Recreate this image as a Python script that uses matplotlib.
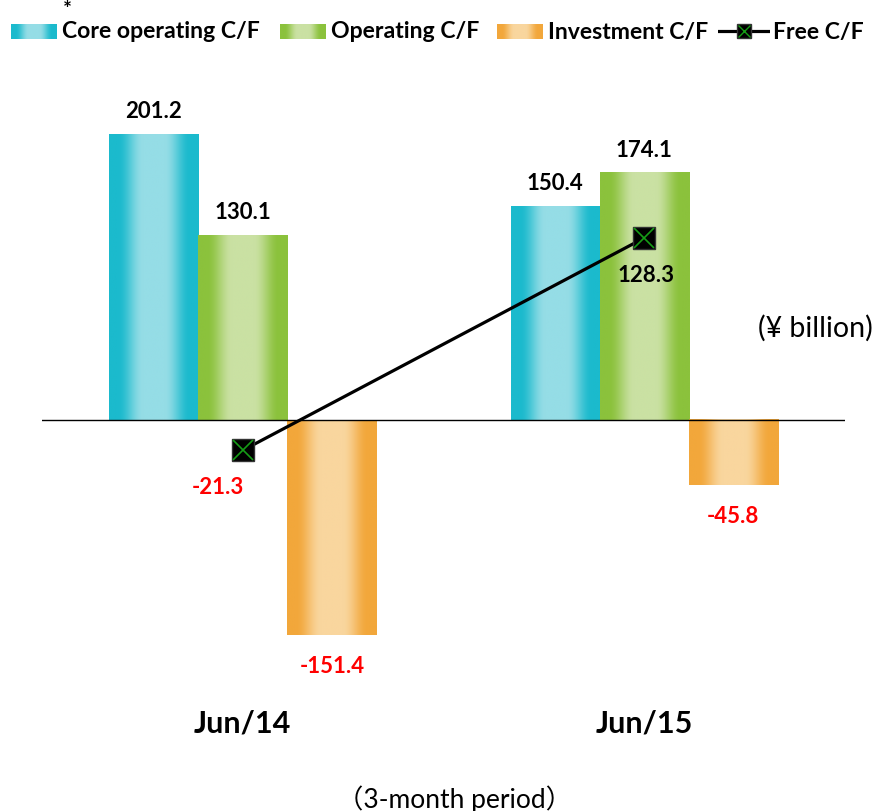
import matplotlib

matplotlib.use("Agg")
import matplotlib.pyplot as plt
import numpy as np
from matplotlib.colors import to_rgb

# 値（¥ billion）
periods = ["Jun/14", "Jun/15"]
core_cf = [201.2, 150.4]
operating_cf = [130.1, 174.1]
investment_cf = [-151.4, -45.8]
free_cf = [-21.3, 128.3]

series_names = ["Core operating C/F", "Operating C/F", "Investment C/F"]
edge_colors = ["#1bbacd", "#8bc23c", "#f2a73b"]
center_colors = ["#95dde6", "#cae1a3", "#f9d69e"]

W, H = 879, 812
plt.rcParams["font.family"] = ["Lato", "DejaVu Sans"]


def gradient_img(edge, center, n=256):
    """横方向のグラデーション（両端が濃く中央が明るい）"""
    t = np.linspace(0, 1, n)
    d = 0.5 - np.abs(t - 0.5)
    s = np.clip((d - 0.1) / 0.28, 0, 1)
    s = s * s * (3 - 2 * s)
    e = np.array(to_rgb(edge))
    c = np.array(to_rgb(center))
    return (e[None, :] + (c - e)[None, :] * s[:, None])[None, :, :]


def fx(px):
    return px / W


def fy(py):
    return 1 - py / H


fig = plt.figure(figsize=(W / 100, H / 100), dpi=100)
ax = fig.add_axes([fx(42), fy(705), (845 - 42) / W, (705 - 52) / H])

x = np.arange(len(periods))
width = 0.222
offsets = [-width, 0, width]
all_values = [core_cf, operating_cf, investment_cf]

for vals, off, ec, cc in zip(all_values, offsets, edge_colors, center_colors):
    bars = ax.bar(x + off, vals, width, color="none", edgecolor="none", zorder=2)
    img = gradient_img(ec, cc)
    for b, v in zip(bars, vals):
        x0 = b.get_x()
        ax.imshow(
            img,
            extent=[x0, x0 + b.get_width(), 0, v],
            aspect="auto",
            interpolation="bilinear",
            zorder=2,
        )
        if v >= 0:
            xy_off, col = (0, 17), "black"
        else:
            xy_off, col = (0, -22), "red"
        ax.annotate(
            f"{v:.1f}",
            (x0 + b.get_width() / 2, v),
            xytext=xy_off,
            textcoords="offset points",
            ha="center",
            va="center",
            fontsize=16,
            fontweight="bold",
            color=col,
        )

ax.axhline(0, color="black", lw=1.0, zorder=3)

# Free C/F
ax.plot(x, free_cf, color="black", lw=2.3, zorder=4)
ax.plot(x, free_cf, ls="none", marker="s", ms=16, mfc="black", mec="#333333", zorder=5)
ax.plot(x, free_cf, ls="none", marker="x", ms=15, mec="#169c16", mew=1.2, zorder=6)
free_offsets = [(-18, -26), (1.5, -26.5)]
for xi, v, off in zip(x, free_cf, free_offsets):
    ax.annotate(
        f"{v:.1f}",
        (xi, v),
        xytext=off,
        textcoords="offset points",
        ha="center",
        va="center",
        fontsize=16,
        fontweight="bold",
        color="red" if v < 0 else "black",
    )

ax.set_xlim(-0.5, 1.5)
ax.set_ylim(-200, 260)
ax.set_xticks(x)
ax.set_xticklabels(periods, fontsize=22, fontweight="bold")
ax.tick_params(axis="x", length=0, pad=3)
ax.set_yticks([])
for sp in ax.spines.values():
    sp.set_visible(False)
ax.patch.set_visible(False)

# 単位・期間
fig.text(fx(815), fy(328), "(¥ billion)", fontsize=20.5, ha="center", va="center")
fig.text(
    fx(455),
    fy(799),
    "（3-month period）",
    fontsize=19,
    ha="center",
    va="center",
    family=["Lato", "Noto Sans CJK JP"],
)

# 凡例（手描き）
patch_px = [11, 280, 497]
for px0, name, ec, cc in zip(patch_px, series_names, edge_colors, center_colors):
    lax = fig.add_axes([fx(px0), fy(40), 46 / W, 15 / H])
    lax.imshow(gradient_img(ec, cc), aspect="auto", interpolation="bilinear")
    lax.axis("off")
    fig.text(fx(px0 + 51), fy(32), name, fontsize=16.6, fontweight="bold", ha="left", va="center")

fig.text(fx(67), fy(10), "*", fontsize=15, fontweight="bold", ha="center", va="center")

lax = fig.add_axes([fx(718), fy(42), 52 / W, 20 / H])
lax.set_xlim(0, 1)
lax.set_ylim(-1, 1)
lax.plot([0, 1], [0, 0], color="black", lw=2.3)
lax.plot([0.5], [0], marker="s", ms=10, mfc="black", mec="#333333")
lax.plot([0.5], [0], marker="x", ms=9, mec="#169c16", mew=1.0)
lax.axis("off")
fig.text(fx(773), fy(32), "Free C/F", fontsize=16.6, fontweight="bold", ha="left", va="center")

fig.savefig("out.png", dpi=100)
